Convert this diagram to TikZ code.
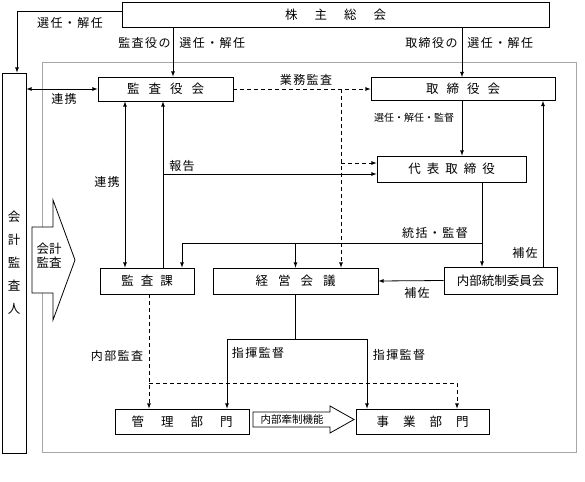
\documentclass[tikz,border=0pt]{standalone}
\usepackage{fontspec}
\setmainfont{Noto Sans CJK JP}
\newfontfamily\lblfont[LetterSpace=12]{Noto Sans CJK JP}
\usetikzlibrary{positioning,arrows,calc}

\newcommand{\kk}[1]{\hspace{#1pt}}

\tikzset{
  box/.style={draw,rectangle,inner sep=0pt,font=\fontsize{12.5}{14}\selectfont},
  lbl/.style={inner sep=0pt,font=\lblfont\fontsize{12}{14}\selectfont},
  small/.style={inner sep=0pt,font=\fontsize{10}{12}\selectfont},
  dsh/.style={dash pattern=on 4pt off 3pt},
}

\begin{document}
\begin{tikzpicture}[>=latex, x=1pt, y=-1pt, line width=0.8pt]
  \useasboundingbox (0,0) rectangle (585,481);
  \draw [gray!70] (42,62) rectangle (576,452);

  % boxes
  \node [box,minimum width=427pt,minimum height=25pt] (soukai) at (335.5,14.5) {株\kk{17}主\kk{17}総\kk{17}会};
  \node [box,minimum width=24pt,minimum height=380pt,align=center,font=\fontsize{12.5}{23}\selectfont] (kaikei) at (14,263) {会\\計\\監\\査\\人};
  \node [box,minimum width=135pt,minimum height=24pt] (kansayaku) at (165.5,89) {監\kk{9}査\kk{9}役\kk{9}会};
  \node [box,minimum width=184pt,minimum height=23pt] (torishimari) at (463,89) {取\kk{8}締\kk{8}役\kk{8}会};
  \node [box,minimum width=149pt,minimum height=26pt] (daihyo) at (451.5,169) {代\kk{6}表\kk{6}取\kk{6}締\kk{6}役};
  \node [box,minimum width=94pt,minimum height=26pt] (kansaka) at (147,281) {監\kk{7}査\kk{7}課};
  \node [box,minimum width=165pt,minimum height=26pt] (keiei) at (295.5,281) {経\kk{10}営\kk{10}会\kk{10}議};
  \node [box,minimum width=113pt,minimum height=27pt] (naibu) at (500.5,280.5) {内部統制委員会};
  \node [box,minimum width=134pt,minimum height=25pt] (kanri) at (182,421.5) {管\kk{17}理\kk{17}部\kk{17}門};
  \node [box,minimum width=133pt,minimum height=25pt] (jigyo) at (422.5,421.5) {事\kk{14}業\kk{14}部\kk{14}門};

  % block arrows
  \draw [fill=white] (32,227) -- (53,227) -- (53,200) -- (75,260) -- (53,320) -- (53,293) -- (32,293) -- cycle;
  \node [inner sep=0pt,align=center,font=\fontsize{12.5}{14}\selectfont] (kaikeikansa) at (49,256) {会計\\監査};
  \draw [fill=white] (253,412) -- (330,412) -- (330,406) -- (354,419.5) -- (330,433) -- (330,427) -- (253,427) -- cycle;
  \node [small,font=\fontsize{10.5}{12}\selectfont] (kensei) at (292,419.5) {内部牽制機能};

  % lanes
  \coordinate (xa) at (173,0);
  \coordinate (xb) at (462,0);
  \coordinate (xd) at (341,0);
  \coordinate (xr) at (125,0);
  \coordinate (xh) at (163,0);
  \coordinate (xt) at (482,0);
  \coordinate (xk) at (182,0);
  \coordinate (xs) at (543,0);
  \coordinate (xi) at (149,0);
  \coordinate (xj) at (457,0);
  \coordinate (xm) at (227,0);
  \coordinate (xn) at (367,0);
  \coordinate (ys) at (0,243);
  \coordinate (yi) at (0,383);
  \coordinate (yc) at (0,339);

  % connectors
  \draw [->] ([yshift=3.5pt]soukai.west) -| ([xshift=3pt]kaikei.north);
  \draw [->] (soukai.south -| xa) -- (kansayaku.north -| xa);
  \draw [->] (soukai.south -| xb) -- (torishimari.north -| xb);
  \draw [<->] (kaikei.east |- kansayaku.west) -- (kansayaku.west);
  \draw [->,dsh] (kansayaku.east) -- (torishimari.west);
  \draw [->,dsh] (kansayaku.east -| xd) -- (keiei.north -| xd);
  \draw [->,dsh] ([yshift=6pt]daihyo.west -| xd) -- ([yshift=6pt]daihyo.west);
  \draw [->] (torishimari.south -| xb) -- (daihyo.north -| xb);
  \draw [<->] (kansayaku.south -| xr) -- (kansaka.north -| xr);
  \draw [->] (kansaka.north -| xh) -- (kansayaku.south -| xh);
  \draw [->] ([yshift=-5pt]daihyo.west -| xh) -- ([yshift=-5pt]daihyo.west);
  \draw [->] (daihyo.south -| xt) -- (naibu.north -| xt);
  \draw [->] (xt |- ys) -| (kansaka.north -| xk);
  \draw [->] (keiei.north |- ys) -- (keiei.north);
  \draw [->] (naibu.north -| xs) -- (torishimari.south -| xs);
  \draw [->] (naibu.west) -- (keiei.east);
  \draw [->,dsh] (kansaka.south -| xi) -- (kanri.north -| xi);
  \draw [->,dsh] (xi |- yi) -| (jigyo.north -| xj);
  \draw (keiei.south) -- (keiei.south |- yc);
  \draw [->] (xm |- yc) -- (kanri.north -| xm);
  \draw [->] (xn |- yc) -- (jigyo.north -| xn);
  \draw (xm |- yc) -- (xn |- yc);

  % labels
  \node [lbl] (sennin) at (70,23) {選任・解任};
  \node [lbl,anchor=east] (kansayakuno) at (171,43) {監査役の};
  \node [lbl,anchor=west] (sennin2) at (179,43) {選任・解任};
  \node [lbl,anchor=east] (torishimarino) at (458,43) {取締役の};
  \node [lbl,anchor=west] (sennin3) at (467,43) {選任・解任};
  \node [lbl] (renkei) at (64,99) {連携};
  \node [lbl] (gyomu) at (306,80) {業務監査};
  \node [lbl] (renkei2) at (107,182) {連携};
  \node [lbl] (hokoku) at (182,166) {報告};
  \node [small] (kantoku) at (414,118) {選任・解任・監督};
  \node [lbl] (tokatsu) at (435,233) {統括・監督};
  \node [lbl] (hosa) at (525,253) {補佐};
  \node [lbl] (hosa2) at (417,293) {補佐};
  \node [lbl] (naibukansa) at (117,356) {内部監査};
  \node [lbl] (shiki) at (258,353) {指揮監督};
  \node [lbl] (shiki2) at (399,355) {指揮監督};
\end{tikzpicture}
\end{document}
